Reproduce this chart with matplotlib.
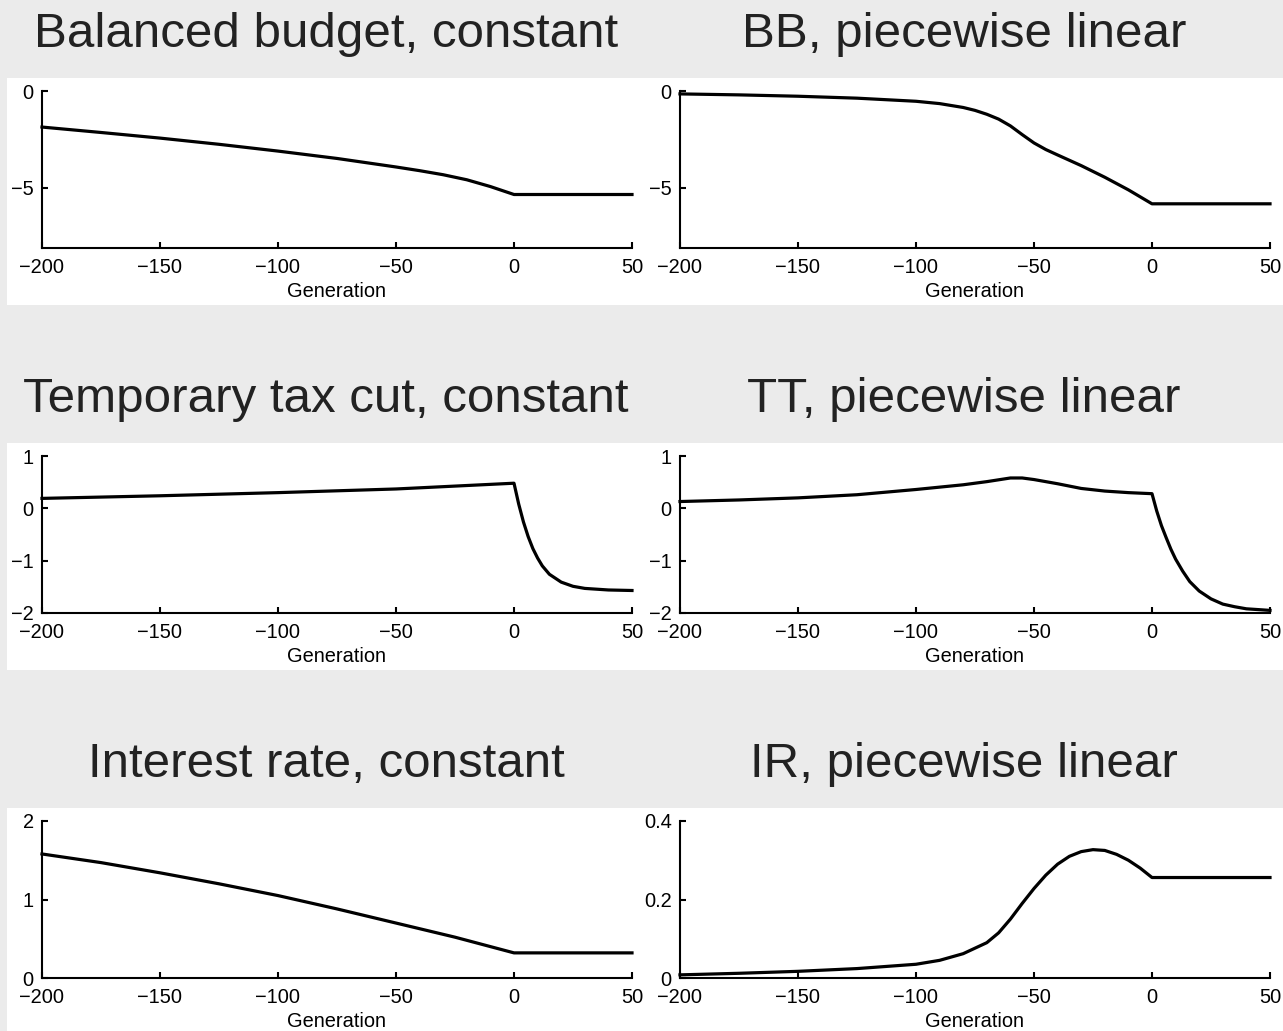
import matplotlib
matplotlib.use("Agg")
import matplotlib.pyplot as plt
from matplotlib.patches import Rectangle

plt.rcParams['font.family'] = ['Liberation Sans', 'DejaVu Sans']

# ---------------- data ----------------
titles = ["Balanced budget, constant", "BB, piecewise linear",
          "Temporary tax cut, constant", "TT, piecewise linear",
          "Interest rate, constant", "IR, piecewise linear"]
xlabel_text = "Generation"
xticks = [-200, -150, -100, -50, 0, 50]

bb_const_x = [-200, -175, -150, -125, -100, -75, -50, -40, -30, -20, -10, 0, 50]
bb_const_y = [-1.86, -2.14, -2.43, -2.75, -3.1, -3.48, -3.92, -4.11, -4.32, -4.58,
              -4.93, -5.34, -5.34]

bb_pw_x = [-200, -175, -150, -125, -100, -90, -80, -75, -70, -65, -60, -55, -50,
           -45, -40, -30, -20, -10, 0, 50]
bb_pw_y = [-0.15, -0.2, -0.27, -0.37, -0.53, -0.65, -0.85, -1.0, -1.2, -1.45, -1.8,
           -2.25, -2.68, -3.02, -3.3, -3.85, -4.45, -5.1, -5.82, -5.82]

tt_const_x = [-200, -150, -100, -50, 0, 2, 4, 6, 8, 10, 12, 15, 20, 25, 30, 40, 50]
tt_const_y = [0.19, 0.24, 0.30, 0.37, 0.48, 0.08, -0.26, -0.54, -0.77, -0.95, -1.1,
              -1.26, -1.41, -1.49, -1.53, -1.56, -1.57]

tt_pw_x = [-200, -175, -150, -125, -100, -80, -70, -60, -55, -50, -40, -30, -20,
           -10, 0, 2, 4, 6, 8, 10, 13, 16, 20, 25, 30, 35, 40, 50]
tt_pw_y = [0.13, 0.16, 0.2, 0.26, 0.36, 0.45, 0.51, 0.58, 0.58, 0.55, 0.47, 0.38,
           0.33, 0.30, 0.28, -0.05, -0.33, -0.56, -0.78, -0.97, -1.2, -1.4, -1.58,
           -1.73, -1.83, -1.88, -1.92, -1.95]

ir_const_x = [-200, -175, -150, -125, -100, -75, -50, -25, 0, 50]
ir_const_y = [1.58, 1.47, 1.34, 1.20, 1.05, 0.88, 0.70, 0.52, 0.32, 0.32]

ir_pw_x = [-200, -175, -150, -125, -100, -90, -80, -70, -65, -60, -55, -50, -45,
           -40, -35, -30, -25, -20, -15, -10, -5, 0, 50]
ir_pw_y = [0.008, 0.012, 0.017, 0.024, 0.035, 0.045, 0.062, 0.09, 0.115, 0.15,
           0.19, 0.228, 0.262, 0.29, 0.31, 0.322, 0.327, 0.325, 0.315, 0.3, 0.28,
           0.256, 0.256]

series = [(bb_const_x, bb_const_y), (bb_pw_x, bb_pw_y),
          (tt_const_x, tt_const_y), (tt_pw_x, tt_pw_y),
          (ir_const_x, ir_const_y), (ir_pw_x, ir_pw_y)]
ylims = [(-8.1, 0), (-8.1, 0), (-2, 1), (-2, 1), (0, 2), (0, 0.4)]
yticks = [[-5, 0], [-5, 0], [-2, -1, 0, 1], [-2, -1, 0, 1], [0, 1, 2], [0, 0.2, 0.4]]
yticklabels = [["\u22125", "0"], ["\u22125", "0"],
               ["\u22122", "\u22121", "0", "1"], ["\u22122", "\u22121", "0", "1"],
               ["0", "1", "2"], ["0", "0.2", "0.4"]]

# ---------------- figure ----------------
W, H = 1283, 1031
fig = plt.figure(figsize=(W / 100, H / 100), dpi=100, facecolor='#ebebeb')

def fy(px):
    return 1 - px / H

# white panel bands
band_tops = [78, 443, 808]
band_bots = [305, 670, 1040]
for t, b in zip(band_tops, band_bots):
    fig.patches.append(Rectangle((7 / W, fy(b)), 1.0, (b - t) / H,
                                 transform=fig.transFigure, facecolor='white',
                                 edgecolor='none', zorder=-5))

ax_left = [42, 680]
ax_w = 590
ax_tops = [91, 456, 821]
ax_h = 157
title_cx = [326, 964]
title_base = [47, 412, 777]

for i in range(6):
    r, c = divmod(i, 2)
    ax = fig.add_axes([ax_left[c] / W, fy(ax_tops[r] + ax_h), ax_w / W, ax_h / H])
    ax.set_zorder(2)
    ax.patch.set_alpha(0)
    xs, ys = series[i]
    ax.plot(xs, ys, color='black', lw=2.3, solid_joinstyle='round', clip_on=False)
    ax.set_xlim(-200, 50)
    ax.set_ylim(*ylims[i])
    ax.set_xticks(xticks)
    ax.set_xticklabels([("\u2212%d" % -v) if v < 0 else str(v) for v in xticks])
    ax.set_yticks(yticks[i])
    ax.set_yticklabels(yticklabels[i])
    for s in ['top', 'right']:
        ax.spines[s].set_visible(False)
    for s in ['left', 'bottom']:
        ax.spines[s].set_linewidth(1.5)
    ax.tick_params(direction='in', length=4, width=1.5, labelsize=14.4,
                   colors='black')
    ax.tick_params(axis='x', pad=7)
    ax.tick_params(axis='y', pad=6)
    ax.set_xlabel(xlabel_text, fontsize=14.4, labelpad=4)
    fig.text(title_cx[c] / W, fy(title_base[r]), titles[i], fontsize=35.5,
             ha='center', va='baseline', color='#222222')

fig.savefig("out.png", dpi=100, facecolor=fig.get_facecolor())
